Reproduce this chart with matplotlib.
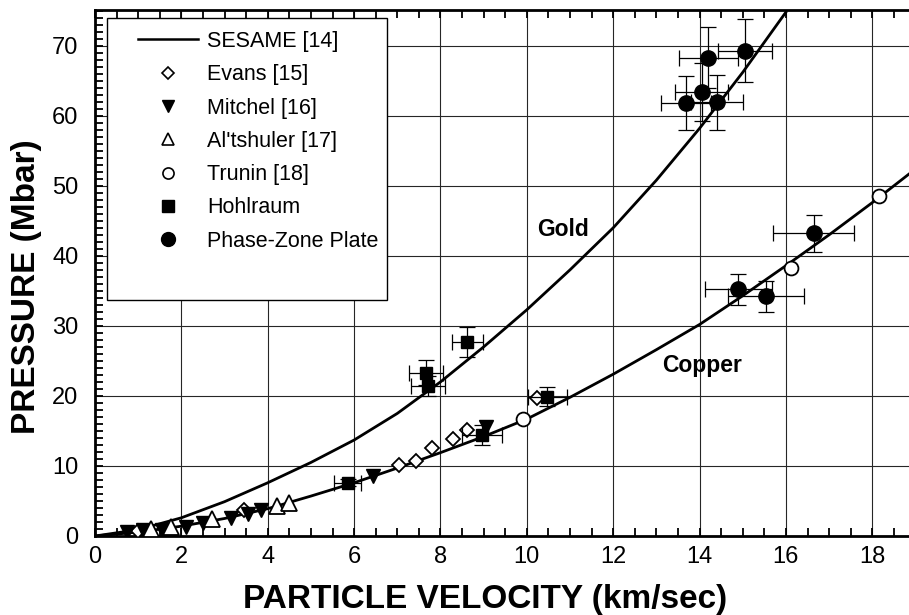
import matplotlib
matplotlib.use("Agg")
import matplotlib.pyplot as plt
from matplotlib.lines import Line2D
from matplotlib.patches import Rectangle
from matplotlib.ticker import MultipleLocator
from matplotlib import font_manager

names = {f.name for f in font_manager.fontManager.ttflist}
BASE = "Liberation Sans" if "Liberation Sans" in names else "DejaVu Sans"
NARROW = "Liberation Sans Narrow" if "Liberation Sans Narrow" in names else BASE
plt.rcParams["font.family"] = [BASE, "DejaVu Sans"]

# ---- SESAME curves ----
gold_u = [0, 1, 2, 3, 4, 5, 6, 7, 8, 9, 10, 11, 12, 13, 14, 15, 16]
gold_p = [0, 0.9, 2.6, 4.9, 7.6, 10.5, 13.7, 17.5, 22.0, 27.0, 32.3, 38.0, 44.0, 50.8, 58.2, 66.2, 74.8]
copper_u = [0, 1, 2, 3, 4, 5, 6, 7, 8, 9, 10, 11, 12, 13, 14, 15, 16, 17, 18, 19]
copper_p = [0, 0.55, 1.4, 2.5, 3.9, 5.7, 7.6, 9.7, 11.9, 14.2, 16.7, 19.8, 23.1, 26.6, 30.2, 34.3, 38.6, 43.0, 47.6, 52.4]

# ---- experimental data ----
evans_u = [1.0, 3.45, 7.03, 7.44, 7.81, 8.29, 8.62, 10.24]
evans_p = [0.7, 3.7, 10.1, 10.7, 12.5, 13.8, 15.2, 19.7]

mitchel_u = [0.75, 1.1, 1.55, 2.1, 2.5, 3.15, 3.55, 3.85, 6.43, 9.05]
mitchel_p = [0.5, 0.9, 0.8, 1.3, 1.8, 2.6, 3.2, 3.7, 8.5, 15.6]

altshuler_u = [1.3, 1.75, 2.7, 4.22, 4.5]
altshuler_p = [1.0, 1.3, 2.4, 4.3, 4.7]

trunin_u = [9.9, 16.12, 18.15]
trunin_p = [16.7, 38.2, 48.6]

hohl_u = [5.85, 8.97, 10.47, 7.66, 7.71, 8.62]
hohl_p = [7.6, 14.4, 19.9, 23.3, 21.4, 27.7]
hohl_ux = [0.31, 0.46, 0.45, 0.39, 0.39, 0.36]
hohl_py = [0.5, 1.4, 1.4, 1.8, 1.4, 2.1]

pzp_u = [14.2, 15.05, 14.05, 13.68, 14.41, 14.9, 15.53, 16.64]
pzp_p = [68.3, 69.3, 63.4, 61.8, 61.9, 35.2, 34.2, 43.2]
pzp_ux = [0.68, 0.63, 0.62, 0.58, 0.6, 0.77, 0.88, 0.94]
pzp_py = [4.4, 4.5, 4.1, 3.9, 3.9, 2.2, 2.2, 2.7]

legend_labels = ["SESAME [14]", "Evans [15]", "Mitchel [16]", "Al'tshuler [17]",
                 "Trunin [18]", "Hohlraum", "Phase-Zone Plate"]

W, H = 909, 615
fig = plt.figure(figsize=(W / 100, H / 100), dpi=100)
ax = fig.add_axes([95 / W, (H - 536) / H, 1 - 95 / W, (536 - 10) / H])
ax.set_xlim(0, 18.85)
ax.set_ylim(0, 75.1)

ax.xaxis.set_major_locator(MultipleLocator(2))
ax.xaxis.set_minor_locator(MultipleLocator(0.5))
ax.yaxis.set_major_locator(MultipleLocator(10))
ax.yaxis.set_minor_locator(MultipleLocator(1))
ax.grid(True, which="major", color="0.15", lw=0.8)
ax.tick_params(which="both", direction="in", top=True, right=False,
               width=1.3, length=6, colors="black")
ax.tick_params(axis="x", which="major", pad=7, labelsize=17)
ax.tick_params(axis="y", which="major", pad=12, labelsize=17)
for lab in ax.get_xticklabels():
    lab.set_family(NARROW)
for side in ["left", "bottom", "top"]:
    ax.spines[side].set_linewidth(2.0)
ax.spines["right"].set_visible(False)

ax.plot(gold_u, gold_p, color="black", lw=2.0, zorder=3)
ax.plot(copper_u, copper_p, color="black", lw=2.0, zorder=3)

ax.plot(evans_u, evans_p, ls="none", marker="D", ms=7.5, mfc="white", mec="black", mew=1.3, zorder=5)
ax.plot(mitchel_u, mitchel_p, ls="none", marker="v", ms=10, mfc="black", mec="black", zorder=5)
ax.plot(altshuler_u, altshuler_p, ls="none", marker="^", ms=11, mfc="white", mec="black", mew=1.3, zorder=5)
ax.plot(trunin_u, trunin_p, ls="none", marker="o", ms=10, mfc="white", mec="black", mew=1.3, zorder=5)
ax.errorbar(hohl_u, hohl_p, xerr=hohl_ux, yerr=hohl_py, fmt="s", ms=9, mfc="black", mec="black",
            ecolor="black", elinewidth=0.9, capsize=6, capthick=0.9, zorder=5)
ax.errorbar(pzp_u, pzp_p, xerr=pzp_ux, yerr=pzp_py, fmt="o", ms=11, mfc="black", mec="black",
            ecolor="black", elinewidth=0.9, capsize=6, capthick=0.9, zorder=5)

ax.text(10.83, 43.7, "Gold", fontsize=16.5, fontweight="bold", ha="center", va="center", zorder=4)
ax.text(14.06, 24.4, "Copper", fontsize=16.5, fontweight="bold", ha="center", va="center", zorder=4)

ax.set_xlabel("PARTICLE VELOCITY (km/sec)", fontsize=24, fontweight="bold", family=NARROW)
ax.set_ylabel("PRESSURE (Mbar)", fontsize=24, fontweight="bold")
ax.xaxis.set_label_coords((485 - 95) / 814, -(584 - 536) / 526)
ax.yaxis.set_label_coords(-(95 - 42) / 814, (536 - 287) / 526)

# legend box
rect = Rectangle((107 / W, 1 - 300 / H), 280 / W, 282 / H, transform=fig.transFigure,
                 facecolor="white", edgecolor="black", lw=1.0, zorder=10)
fig.patches.append(rect)

handles = [
    Line2D([], [], color="black", lw=1.8),
    Line2D([], [], ls="none", marker="D", ms=6.5, mfc="white", mec="black", mew=1.2),
    Line2D([], [], ls="none", marker="v", ms=9, mfc="black", mec="black"),
    Line2D([], [], ls="none", marker="^", ms=9, mfc="white", mec="black", mew=1.2),
    Line2D([], [], ls="none", marker="o", ms=8, mfc="white", mec="black", mew=1.2),
    Line2D([], [], ls="none", marker="s", ms=8, mfc="black", mec="black"),
    Line2D([], [], ls="none", marker="o", ms=10, mfc="black", mec="black"),
]
leg = fig.legend(handles, legend_labels, loc="upper left",
                 bbox_to_anchor=(138 / W, 1 - 31 / H), frameon=False,
                 fontsize=15.5, handlelength=2.8, handletextpad=0.42,
                 labelspacing=0.57, borderpad=0, borderaxespad=0)
leg.set_zorder(11)

fig.savefig("out.png", dpi=100)
